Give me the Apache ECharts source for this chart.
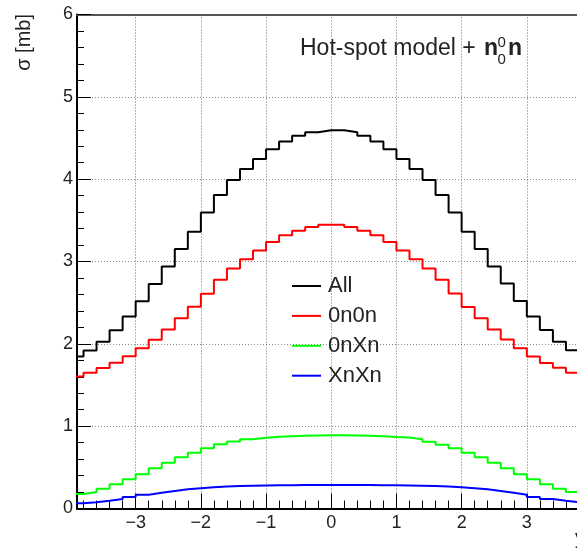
<!DOCTYPE html>
<html><head><meta charset="utf-8">
<script src="https://cdn.jsdelivr.net/npm/echarts@6/dist/echarts.min.js"></script>
<style>html,body{margin:0;padding:0;background:#fff}#c{width:577px;height:550px}</style>
</head><body><div id="c"></div>
<script>
// Histogram binning: 40 bins of width 0.2 from -4 to 4
const binLow = -4.0;
const binWidth = 0.2;
const seriesNames = ['All', '0n0n', '0nXn', 'XnXn'];
const seriesColors = ['#000000', '#ff0000', '#00ff00', '#0000ff'];

const allVals = [1.845, 1.920, 2.025, 2.165, 2.331, 2.517, 2.728, 2.938, 3.152, 3.362,
                 3.594, 3.809, 3.991, 4.125, 4.246, 4.364, 4.457, 4.526, 4.571, 4.595,
                 4.595, 4.571, 4.526, 4.457, 4.364, 4.246, 4.125, 3.991, 3.809, 3.594,
                 3.362, 3.152, 2.938, 2.732, 2.519, 2.331, 2.167, 2.026, 1.923, 1.845];
const n0n0Vals = [1.602, 1.650, 1.707, 1.770, 1.849, 1.946, 2.051, 2.173, 2.311, 2.449,
                  2.609, 2.777, 2.914, 3.028, 3.133, 3.236, 3.319, 3.374, 3.420, 3.445,
                  3.445, 3.420, 3.374, 3.319, 3.236, 3.133, 3.028, 2.916, 2.777, 2.612,
                  2.447, 2.311, 2.175, 2.053, 1.946, 1.847, 1.767, 1.709, 1.650, 1.602];
const n0nXVals = [0.176, 0.200, 0.241, 0.294, 0.354, 0.415, 0.488, 0.557, 0.622, 0.678,
                  0.731, 0.780, 0.814, 0.840, 0.860, 0.870, 0.878, 0.884, 0.888, 0.890,
                  0.890, 0.888, 0.884, 0.878, 0.868, 0.862, 0.840, 0.812, 0.775, 0.731,
                  0.678, 0.622, 0.557, 0.488, 0.415, 0.354, 0.294, 0.241, 0.200, 0.176];
const xnXnVals = [0.063, 0.075, 0.093, 0.116, 0.141, 0.166, 0.190, 0.213, 0.233, 0.247,
                  0.259, 0.267, 0.273, 0.277, 0.280, 0.282, 0.283, 0.284, 0.284, 0.284,
                  0.284, 0.284, 0.284, 0.283, 0.282, 0.280, 0.277, 0.273, 0.267, 0.259,
                  0.247, 0.233, 0.213, 0.190, 0.166, 0.141, 0.116, 0.093, 0.075, 0.063];

const xMajorTicks = [-3, -2, -1, 0, 1, 2, 3];
const xMinorTicks = [];
for (let k = -19; k <= 19; k++) xMinorTicks.push(+(k * 0.2).toFixed(2));
const yTickValues = [0, 1, 2, 3, 4, 5, 6];

function outline(vals) {
  const pts = [];
  vals.forEach((v, i) => {
    const lo = +(binLow + i * binWidth).toFixed(4);
    const hi = +(binLow + (i + 1) * binWidth).toFixed(4);
    pts.push([lo, v], [hi, v]);
  });
  return pts;
}
const seriesVals = [allVals, n0n0Vals, n0nXVals, xnXnVals];

const FONT = '"Liberation Sans", Arial, Helvetica, sans-serif';
const chart = echarts.init(document.getElementById('c'), null, {renderer: 'canvas'});
const xMin = -3.9, xMax = 3.9;

chart.setOption({
  animation: false,
  backgroundColor: '#ffffff',
  grid: {left: 77, top: 14.5, width: 508.5, height: 494, containLabel: false, outerBoundsMode: 'none'},
  legend: {
    orient: 'vertical', left: 287, top: 270,
    itemWidth: 29, itemHeight: 2, itemGap: 7.9,
    icon: 'rect',
    data: seriesNames,
    textStyle: {fontFamily: FONT, fontSize: 22, color: '#222', padding: [0, 0, 0, 2]}
  },
  xAxis: [
    {
      type: 'value', min: xMin, max: xMax, position: 'bottom',
      axisLine: {show: true, onZero: false, lineStyle: {color: '#000', width: 2}},
      axisTick: {show: true, inside: true, length: 15, customValues: xMajorTicks, lineStyle: {color: '#000', width: 1}},
      axisLabel: {show: true, customValues: xMajorTicks, margin: 6, fontFamily: FONT, fontSize: 18, color: '#222',
                  formatter: v => String(v).replace('-', '\u2212')},
      splitLine: {show: true, lineStyle: {color: '#666', type: [1, 2], width: 1}},
      minorTick: {show: false}
    },
    {
      type: 'value', min: xMin, max: xMax, position: 'bottom',
      axisLine: {show: false},
      axisTick: {show: true, inside: true, length: 8, customValues: xMinorTicks, lineStyle: {color: '#000', width: 1}},
      axisLabel: {show: false},
      splitLine: {show: false}
    },
    {
      type: 'value', min: xMin, max: xMax, position: 'top',
      axisLine: {show: true, onZero: false, lineStyle: {color: '#555', width: 2}},
      axisTick: {show: false}, axisLabel: {show: false}, splitLine: {show: false}
    }
  ],
  yAxis: {
    type: 'value', min: 0, max: 6, interval: 1,
    axisLine: {show: true, onZero: false, lineStyle: {color: '#000', width: 2}},
    axisTick: {show: true, inside: true, length: 14, lineStyle: {color: '#000', width: 1}},
    minorTick: {show: true, splitNumber: 5, length: 7, lineStyle: {color: '#000', width: 1}},
    axisLabel: {show: true, margin: 4, fontFamily: FONT, fontSize: 18, color: '#222'},
    splitLine: {show: true, lineStyle: {color: '#888', type: [1, 2], width: 1}},
    minorSplitLine: {show: false}
  },
  series: seriesNames.map((name, i) => ({
    name: name, type: 'line', xAxisIndex: 0, yAxisIndex: 0,
    data: outline(seriesVals[i]),
    showSymbol: false, symbol: 'none',
    color: seriesColors[i],
    itemStyle: {color: seriesColors[i]},
    lineStyle: {color: seriesColors[i], width: 2},
    clip: true
  })),
  graphic: [
    {type: 'text', x: 24, y: 14, rotation: Math.PI / 2,
     style: {text: 'σ [mb]', font: '20px ' + FONT, fill: '#222', align: 'right', verticalAlign: 'middle'}},
    {type: 'text', x: 585, y: 538, style: {text: 'y', font: '20px ' + FONT, fill: '#222', align: 'right', verticalAlign: 'middle'}},
    {type: 'text', x: 300, y: 49, style: {text: 'Hot-spot model +', font: '23px ' + FONT, fill: '#222', align: 'left', verticalAlign: 'middle'}},
    {type: 'text', x: 484, y: 49, style: {text: 'n', font: 'bold 23px ' + FONT, fill: '#222', align: 'left', verticalAlign: 'middle'}},
    {type: 'text', x: 497.5, y: 42.5, style: {text: '0', font: '15px ' + FONT, fill: '#222', align: 'left', verticalAlign: 'middle'}},
    {type: 'text', x: 497.5, y: 60, style: {text: '0', font: '15px ' + FONT, fill: '#222', align: 'left', verticalAlign: 'middle'}},
    {type: 'text', x: 508, y: 49, style: {text: 'n', font: 'bold 23px ' + FONT, fill: '#222', align: 'left', verticalAlign: 'middle'}}
  ]
});
</script></body></html>
